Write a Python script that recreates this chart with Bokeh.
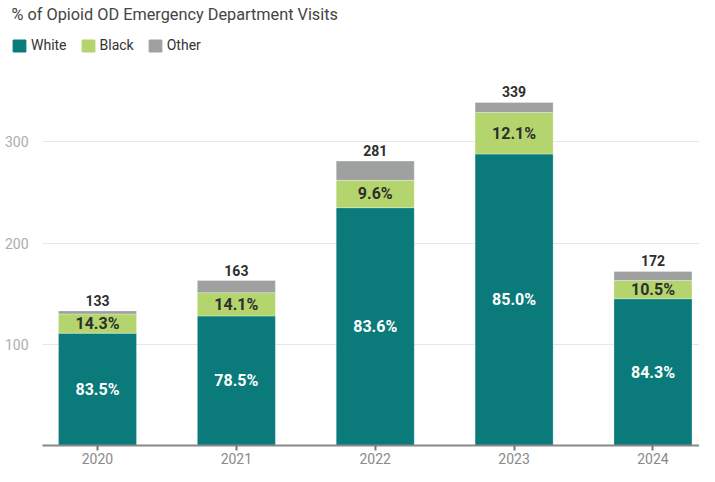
from bokeh.plotting import figure
from bokeh.layouts import column
from bokeh.models import (ColumnDataSource, Range1d, FixedTicker, Label, Legend,
                          LegendItem, NumeralTickFormatter)
from bokeh.core.properties import value
from bokeh.embed import file_html
from bokeh.resources import INLINE

years = [2020, 2021, 2022, 2023, 2024]
white = [111, 128, 235, 288, 145]
black = [19, 23, 27, 41, 18]
other = [3, 12, 19, 10, 9]
white_pct = ["83.5%", "78.5%", "83.6%", "85.0%", "84.3%"]
black_pct = ["14.3%", "14.1%", "9.6%", "12.1%", "10.5%"]
y_ticks = [100, 200, 300]
series = ["white", "black", "other"]
series_names = ["White", "Black", "Other"]
colors = ["#0a7a7b", "#b4d56e", "#9fa1a0"]
title_text = "% of Opioid OD Emergency Department Visits"

FONT = value("Roboto")
W = 699
HEAD_H = 60
MAIN_H = 406

totals = [w + b + o for w, b, o in zip(white, black, other)]
src = ColumnDataSource(dict(
    year=years, white=white, black=black, other=other,
    total=totals,
    white_mid=[w / 2 for w in white],
    black_mid=[w + b / 2 for w, b in zip(white, black)],
    white_pct=white_pct, black_pct=black_pct,
    total_lbl=[str(t) for t in totals],
))

# ---------- header: title + legend ----------
h = figure(width=W, height=HEAD_H, output_backend="svg", toolbar_location=None,
           x_range=Range1d(0, 1), y_range=Range1d(0, 1),
           x_axis_location=None, y_axis_location=None,
           min_border=0)
h.frame_align = False
h.outline_line_color = None
h.grid.grid_line_color = None
h.add_layout(Label(x=11, y=HEAD_H - 14, x_units="screen", y_units="screen",
                   text=title_text, text_font="Roboto", text_font_size="16.3px",
                   text_color="#444444", text_baseline="middle"))
# legend swatches (proxy glyphs placed outside the visible range)
proxies = [h.vbar(x=[5], top=[1], width=0.5, color=c) for c in colors]
legend = Legend(items=[LegendItem(label=n, renderers=[r]) for n, r in zip(series_names, proxies)],
                location=(11, 7), orientation="horizontal",
                glyph_width=16, glyph_height=15, label_height=15,
                label_standoff=4, spacing=13, padding=0, margin=0,
                label_text_font="Roboto", label_text_font_size="14px",
                label_text_color="#333333",
                border_line_color=None, background_fill_alpha=0)
h.add_layout(legend, "center")

# ---------- main chart ----------
p = figure(width=W, height=MAIN_H, output_backend="svg", toolbar_location=None,
           x_range=Range1d(years[0] - 0.396, years[-1] + 0.335),
           y_range=Range1d(0, 380.4),
           min_border_left=42, min_border_right=0, min_border_top=0,
           min_border_bottom=0)
p.frame_align = False
p.outline_line_color = None
p.background_fill_color = "white"
p.border_fill_color = "white"

p.vbar_stack(series, x="year", width=0.562, source=src, color=colors,
             line_color="white", line_width=0.6, line_alpha=0.5)

p.text(x="year", y="white_mid", text="white_pct", source=src,
       text_font=FONT, text_font_size="16px", text_font_style="bold",
       text_color="white", text_align="center", text_baseline="middle")
p.text(x="year", y="black_mid", text="black_pct", source=src,
       text_font=FONT, text_font_size="16px", text_font_style="bold",
       text_color="#2e2e2e", text_align="center", text_baseline="middle")
p.text(x="year", y="total", text="total_lbl", source=src, y_offset=-5,
       text_font=FONT, text_font_size="14px", text_font_style="bold",
       text_color="#2e2e2e", text_align="center", text_baseline="bottom")

xa = p.xaxis[0]
xa.ticker = FixedTicker(ticks=years)
xa.formatter = NumeralTickFormatter(format="0")
xa.axis_line_color = "#888888"
xa.axis_line_width = 2
xa.major_tick_line_color = "#777777"
xa.major_tick_line_width = 2
xa.major_tick_out = 5
xa.major_tick_in = 0
xa.minor_tick_line_color = None
xa.major_label_standoff = 2
xa.major_label_text_font = "Roboto"
xa.major_label_text_font_size = "14px"
xa.major_label_text_color = "#8a8a8a"

ya = p.yaxis[0]
ya.ticker = FixedTicker(ticks=y_ticks)
ya.axis_line_color = None
ya.major_tick_line_color = None
ya.minor_tick_line_color = None
ya.major_label_standoff = 8
ya.major_label_text_font = "Roboto"
ya.major_label_text_font_size = "14px"
ya.major_label_text_color = "#adadad"

p.xgrid.grid_line_color = None
p.ygrid.grid_line_color = "#e6e6e6"
p.ygrid.grid_line_width = 1

layout = column(h, p, spacing=0)
open("out.html", "w").write(file_html(layout, INLINE))
